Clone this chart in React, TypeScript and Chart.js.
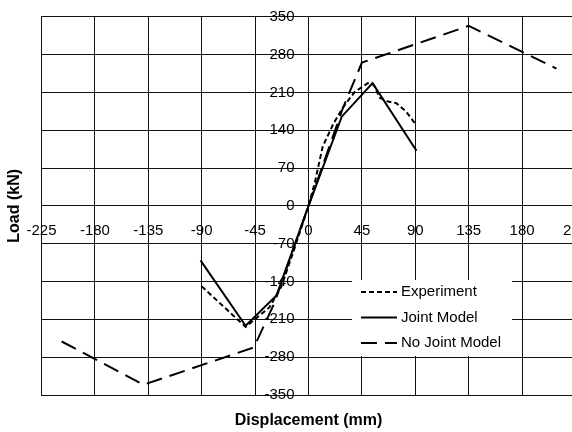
import React, { useEffect, useRef } from 'react';
import { Chart, registerables } from 'chart.js';

Chart.register(...registerables);

// ---- Data ----
const experimentX = [-90, -53, -33, -23, -12, -3, 0, 5, 12, 21, 29, 39, 50, 55, 60, 67, 74, 82, 90];
const experimentY = [-149, -224, -188, -150, -80, -20, 0, 40, 110, 152, 182, 211, 227, 224, 200, 193, 190, 175, 152];

const jointX = [-91, -53, -27, 0, 28, 54, 91];
const jointY = [-101, -222, -166, 0, 165, 227, 102];

const noJointX = [-208, -139, -46, -29, 0, 29, 45, 135, 209];
const noJointY = [-251, -331, -262, -181, 0, 181, 265, 333, 254];

const xTickLabels = [-225, -180, -135, -90, -45, 0, 45, 90, 135, 180, 225];
const yTickLabels = [-350, -280, -210, -140, -70, 0, 70, 140, 210, 280, 350];

const seriesNames = ['Experiment', 'Joint Model', 'No Joint Model'];

const FONT = '"Liberation Sans", Arial, Helvetica, sans-serif';

const toPoints = (xs: number[], ys: number[]) => xs.map((x, i) => ({ x, y: ys[i] }));

const axisLabelPlugin = {
  id: 'axisLabelPlugin',
  beforeDatasetsDraw(chart: any) {
    const { ctx, scales } = chart;
    const x = scales.x;
    const y = scales.y;
    const x0 = x.getPixelForValue(0);
    const y0 = y.getPixelForValue(0);
    ctx.save();
    ctx.font = `15px ${FONT}`;
    ctx.fillStyle = '#000';
    ctx.textBaseline = 'middle';
    ctx.textAlign = 'center';
    xTickLabels.forEach((v) => ctx.fillText(String(v), x.getPixelForValue(v), y0 + 25.5));
    ctx.textAlign = 'right';
    yTickLabels.forEach((v) => ctx.fillText(String(v), x0 - 14, y.getPixelForValue(v)));
    ctx.restore();
  },
};

const legendPlugin = {
  id: 'boxLegend',
  afterDatasetsDraw(chart: any) {
    const { ctx } = chart;
    ctx.save();
    ctx.fillStyle = '#fff';
    ctx.fillRect(352, 280, 160, 76);
    ctx.font = `15px ${FONT}`;
    ctx.textBaseline = 'middle';
    ctx.textAlign = 'left';
    chart.data.datasets.forEach((ds: any, i: number) => {
      const yy = 292 + i * 25.5;
      ctx.beginPath();
      ctx.setLineDash(ds.borderDash || []);
      ctx.lineWidth = 2;
      ctx.strokeStyle = '#000';
      ctx.moveTo(361, yy);
      ctx.lineTo(397, yy);
      ctx.stroke();
      ctx.setLineDash([]);
      ctx.fillStyle = '#000';
      ctx.fillText(ds.label, 401, yy);
    });
    ctx.restore();
  },
};

export default function App() {
  const canvasRef = useRef<HTMLCanvasElement | null>(null);

  useEffect(() => {
    const canvas = canvasRef.current;
    if (!canvas) return;
    const chart = new Chart(canvas, {
      type: 'line',
      data: {
        datasets: [
          {
            label: seriesNames[0],
            data: toPoints(experimentX, experimentY),
            borderColor: '#000',
            borderWidth: 2,
            borderDash: [5, 3],
            pointRadius: 0,
            tension: 0,
            fill: false,
          },
          {
            label: seriesNames[1],
            data: toPoints(jointX, jointY),
            borderColor: '#000',
            borderWidth: 2,
            pointRadius: 0,
            tension: 0,
            fill: false,
          },
          {
            label: seriesNames[2],
            data: toPoints(noJointX, noJointY),
            borderColor: '#000',
            borderWidth: 2,
            borderDash: [16, 8],
            pointRadius: 0,
            tension: 0,
            fill: false,
          },
        ],
      },
      options: {
        animation: false,
        responsive: false,
        devicePixelRatio: 1,
        layout: { padding: { left: 0, top: 16.7, right: 14.5, bottom: 0 } },
        plugins: { legend: { display: false }, tooltip: { enabled: false } },
        scales: {
          x: {
            type: 'linear',
            min: -225,
            max: 225,
            afterBuildTicks: (scale: any) => {
              scale.ticks = xTickLabels.map((v) => ({ value: v }));
            },
            ticks: { display: false },
            grid: { color: '#111', lineWidth: 1, drawTicks: false },
            border: { color: '#111', width: 1 },
            title: {
              display: true,
              text: 'Displacement (mm)',
              color: '#000',
              font: { family: FONT, size: 16, weight: 'bold' },
              padding: { top: 16.4, bottom: 1.4 },
            },
          },
          y: {
            type: 'linear',
            min: -350,
            max: 350,
            afterBuildTicks: (scale: any) => {
              scale.ticks = yTickLabels.map((v) => ({ value: v }));
            },
            ticks: { display: false },
            grid: { color: '#111', lineWidth: 1, drawTicks: false },
            border: { color: '#111', width: 1 },
            title: {
              display: true,
              text: 'Load (kN)',
              color: '#000',
              font: { family: FONT, size: 16, weight: 'bold' },
              padding: { top: 5.4, bottom: 16.9 },
            },
          },
        },
      } as any,
      plugins: [axisLabelPlugin, legendPlugin],
    });
    return () => chart.destroy();
  }, []);

  return (
    <div
      style={{
        position: 'absolute',
        left: 0,
        top: 0,
        width: 572,
        height: 432,
        overflow: 'hidden',
        background: '#fff',
      }}
    >
      <canvas ref={canvasRef} width={590} height={432} style={{ width: 590, height: 432, display: 'block' }} />
    </div>
  );
}
